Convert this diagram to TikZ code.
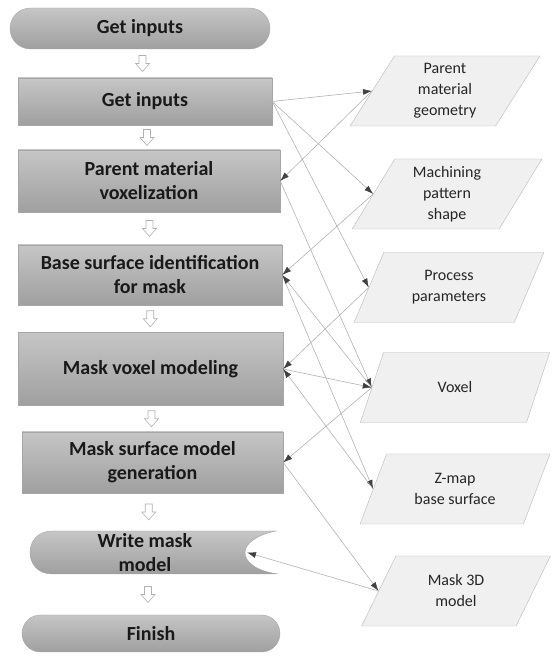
\documentclass[tikz,border=0pt]{standalone}
\usepackage{fontspec}
\setmainfont{Carlito}
\usetikzlibrary{shapes.geometric,shapes.misc,arrows.meta,calc}

\tikzset{
  boxfill/.style={draw=gray!70, top color=gray!45, bottom color=gray!75},
  boxtext/.style={text=black!90, font=\bfseries\fontsize{20}{24}\selectfont, align=center, inner sep=0pt},
  procbox/.style={rectangle, boxfill, boxtext},
  termbox/.style={rounded rectangle, boxfill, boxtext},
  databox/.style={trapezium, trapezium left angle=63.4, trapezium right angle=116.6,
    trapezium stretches=true, minimum width=190pt, minimum height=70pt,
    draw=gray!55, fill=gray!12, text=black!85, font=\fontsize{16}{21}\selectfont,
    align=center, inner sep=0pt},
  flow/.style={draw=gray!60, line width=0.6pt, -{Latex[length=9pt,width=6pt,color=black!75]}},
  downarrow/.pic={\draw[gray!60, fill=white, line width=0.6pt]
    (-3.5,8) -- (3.5,8) -- (3.5,0) -- (7,0) -- (0,-8) -- (-7,0) -- (-3.5,0) -- cycle;}
}

\begin{document}
\begin{tikzpicture}[x=1pt,y=1pt]
\useasboundingbox (0,0) rectangle (559,660);

% process column
\node[termbox, minimum width=260pt, minimum height=41pt] (start) at (140,631.5) {Get inputs};
\node[procbox, minimum width=254pt, minimum height=47pt] (getin) at (145,558.5) {Get inputs};
\node[procbox, minimum width=262pt, minimum height=62pt] (vox) at (149,479) {Parent material\\voxelization};
\node[procbox, minimum width=264pt, minimum height=60pt] (base) at (150,385) {Base surface identification\\for mask};
\node[procbox, minimum width=265pt, minimum height=73pt] (mvox) at (150.5,291) {Mask voxel modeling};
\node[procbox, minimum width=261pt, minimum height=61pt] (msurf) at (152.5,197.5) {Mask surface model\\generation};
\path[boxfill] (52,129) -- (276,129) .. controls (256,125) and (245,116) .. (245,107.5)
  .. controls (245,98) and (256,89) .. (278,86) -- (52,86)
  .. controls (38,86) and (30,96) .. (30,107.5) .. controls (30,119) and (38,129) .. (52,129);
\node[boxtext, minimum width=248pt, minimum height=43pt] (write) at (145,107.5) {Write mask\\model};
\coordinate (writein) at (247,107.5);
\node[termbox, minimum width=258pt, minimum height=37pt] (finish) at (151,26.5) {Finish};

\foreach \u/\v in {start/getin, getin/vox, vox/base, base/mvox, mvox/msurf, msurf/write, write/finish}
  \pic at ($(\u.south)!0.5!(\v.north)$) {downarrow};

% data column
\node[databox] (pgeom) at (445,569) {Parent\\material\\geometry};
\node[databox] (mshape) at (447,466) {Machining\\pattern\\shape};
\node[databox] (pparam) at (449,372.5) {Process\\parameters};
\node[databox] (voxel) at (455,272.5) {Voxel};
\node[databox] (zmap) at (455,171) {Z-map\\base surface};
\node[databox] (m3d) at (456,69) {Mask 3D\\model};

% data flow
\foreach \u/\v in {getin/pgeom, getin/mshape, getin/pparam, vox/voxel, base/zmap, mvox/voxel, msurf/m3d}
  \draw[flow] (\u.east) -- (\v.west);
\foreach \u/\v in {pgeom/vox, mshape/base, voxel/base, pparam/mvox, zmap/mvox, voxel/msurf}
  \draw[flow] (\u.west) -- (\v.east);
\draw[flow] (m3d.west) -- (writein);
\end{tikzpicture}
\end{document}
